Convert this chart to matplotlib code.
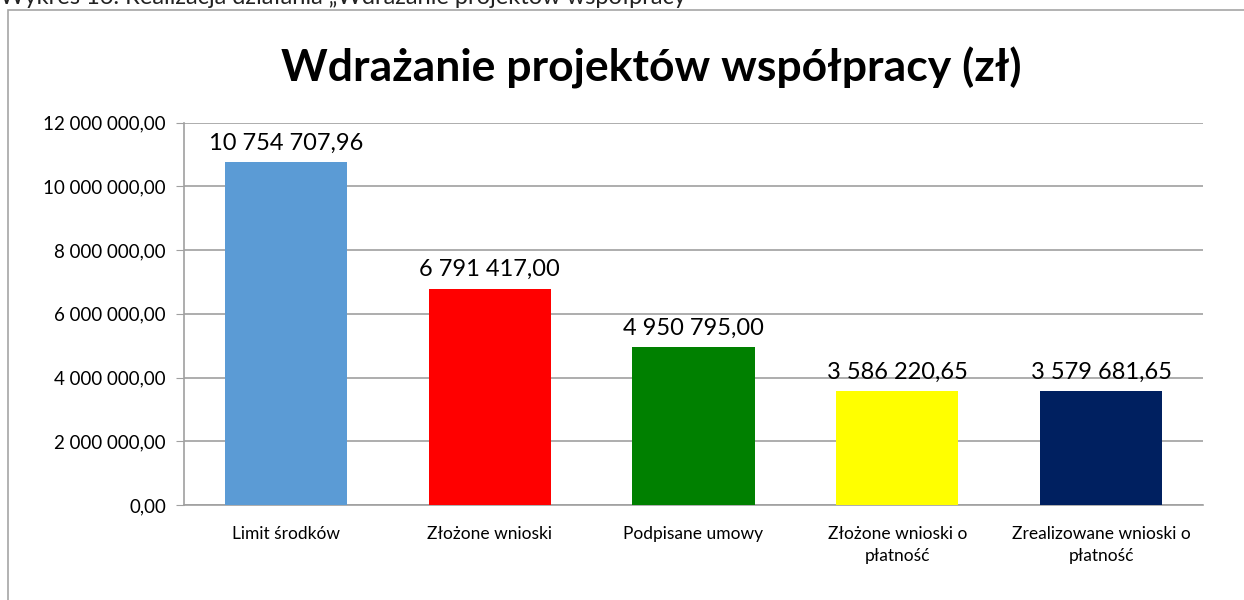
import matplotlib.pyplot as plt
from matplotlib.patches import Rectangle

categories = ['Limit środków', 'Złożone wnioski', 'Podpisane umowy',
              'Złożone wnioski o\npłatność', 'Zrealizowane wnioski o\npłatność']
values = [10754707.96, 6791417.00, 4950795.00, 3586220.65, 3579681.65]
colors = ['#5b9bd5', '#ff0000', '#008000', '#ffff00', '#002060']
yticks = [0, 2000000, 4000000, 6000000, 8000000, 10000000, 12000000]


def pl_fmt(v):
    s = f"{v:,.2f}"
    return s.replace(',', ' ').replace('.', ',')


plt.rcParams['font.family'] = ['Lato', 'DejaVu Sans']

fig = plt.figure(figsize=(12.44, 6.0), dpi=100)

# caption above the chart, mostly cut off at the top edge
fig.text(0.0, 1 - 4 / 600, 'Wykres 16. Realizacja działania „Wdrażanie projektów współpracy”',
         fontsize=17, va='baseline', ha='left', color='#222222')

# outer chart border
fig.patches.append(Rectangle((8 / 1244, -0.01), 1.1, 1 - 10 / 600 + 0.01,
                             transform=fig.transFigure, fill=False,
                             edgecolor='#a6a6a6', linewidth=1.2))

ax = fig.add_axes([184 / 1244, 1 - 505 / 600, 1019 / 1244, (505 - 122.7) / 600])
x = range(len(categories))
ax.bar(x, values, width=0.6, color=colors, zorder=3)

for xi, v in zip(x, values):
    ax.annotate(pl_fmt(v), (xi, v), xytext=(0, 6), textcoords='offset points',
                ha='center', va='bottom', fontsize=17, color='#000000')

ax.set_xlim(-0.5, len(categories) - 0.5)
ax.set_ylim(0, 12000000)
ax.set_yticks(yticks)
ax.set_yticklabels([pl_fmt(t) for t in yticks], fontsize=13.5)
ax.set_xticks(list(x))
ax.set_xticklabels(categories, fontsize=12.5, linespacing=1.45)
ax.tick_params(axis='x', length=0, pad=15)
ax.tick_params(axis='y', length=6, color='#a0a0a0', pad=7)
ax.grid(axis='y', color='#a0a0a0', linewidth=1.2, zorder=0)

for side in ['top', 'right']:
    ax.spines[side].set_visible(False)
for side in ['left', 'bottom']:
    ax.spines[side].set_color('#a0a0a0')
    ax.spines[side].set_linewidth(1.2)

fig.text(651 / 1244, 1 - 68 / 600, 'Wdrażanie projektów współpracy (zł)',
         fontsize=32, fontweight='bold', ha='center', va='center')

fig.savefig('out.png', dpi=100)
